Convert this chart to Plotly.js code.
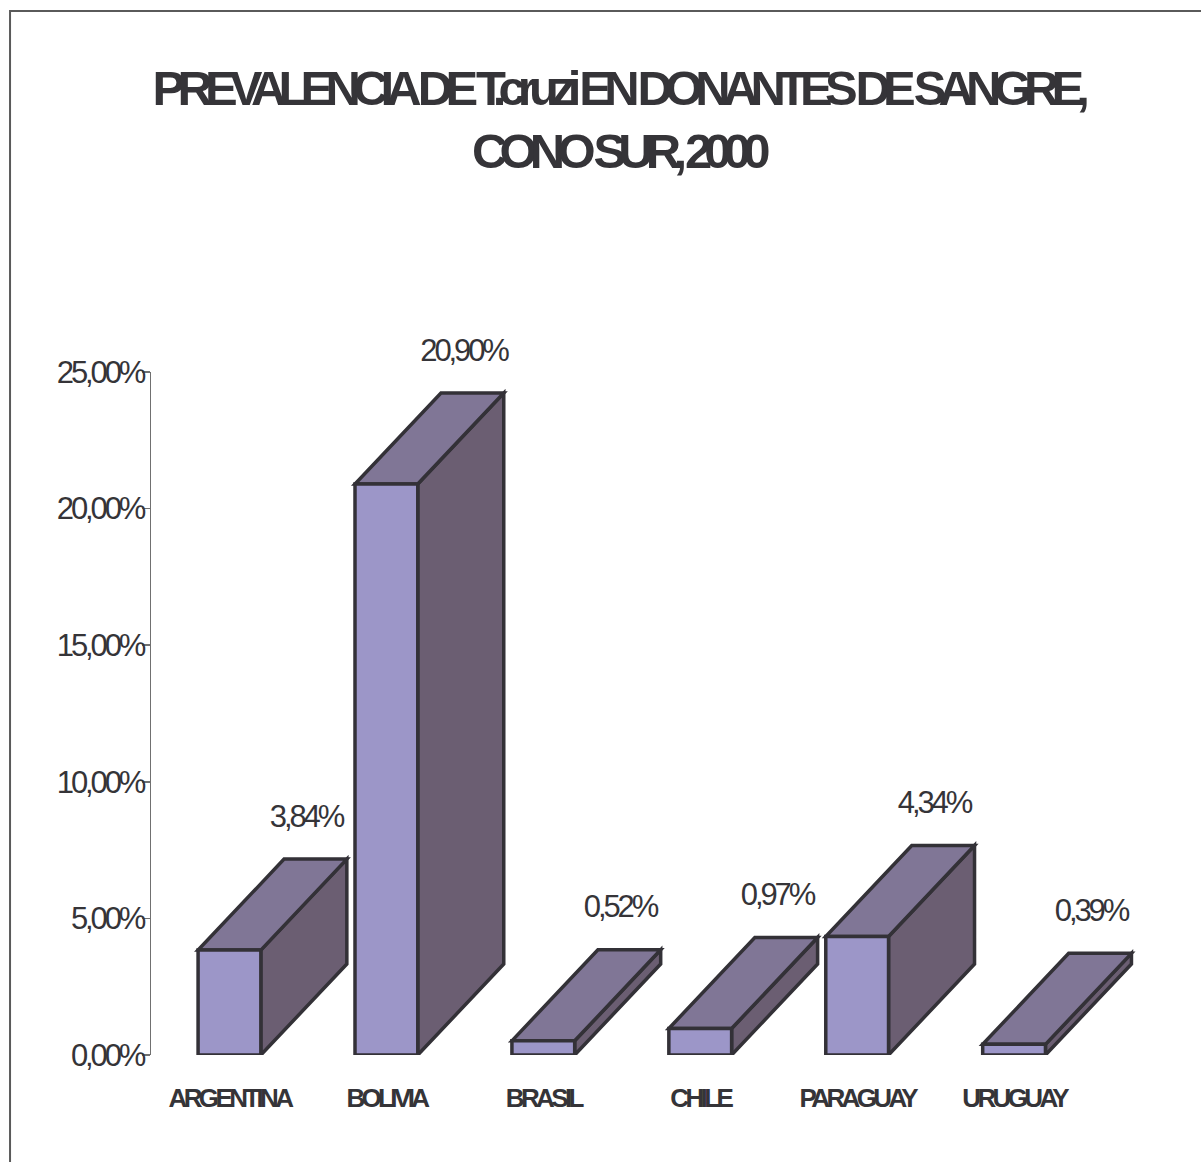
<!DOCTYPE html>
<html>
<head>
<meta charset="utf-8">
<script src="https://cdn.plot.ly/plotly-3.0.1.min.js"></script>
<style>
html,body{margin:0;padding:0;background:#fff}
#chart{width:1201px;height:1162px}
#chart .gtitle{letter-spacing:-0.16em}
#chart .xtick text{letter-spacing:-0.14em}
#chart .ytick text{letter-spacing:-0.1em}
#chart .annotation-text{letter-spacing:-0.1em}
</style>
</head>
<body>
<div id="chart"></div>
<script>
// ---- data ----
const countries = ['ARGENTINA', 'BOLIVIA', 'BRASIL', 'CHILE', 'PARAGUAY', 'URUGUAY'];
const prevalence = [3.84, 20.90, 0.52, 0.97, 4.34, 0.39];
const yTickValues = [0, 5, 10, 15, 20, 25];
const titleLines = ['PREVALENCIA DE T.cruzi EN DONANTES DE SANGRE,', 'CONO SUR, 2000'];

// ---- style ----
const FRONT = '#9C96C8', TOP = '#807696', SIDE = '#6B5E72', EDGE = '#333137';
const TXT = '#353438';
const FONT = 'Liberation Sans, Arial, Helvetica, sans-serif';
const BAR_W = 0.4;      // front face width (category units)
const DEPTH_X = 0.548;  // 3D depth offset, x (category units)
const DEPTH_Y = 3.33;   // 3D depth offset, y (axis units)
const EDGE_W = 3.5;

const xPos = countries.map((c, i) => i);

const fmt = v => v.toFixed(2).replace('.', ',') + '%';

const shapes = [];
xPos.forEach((x, i) => {
  const v = prevalence[i];
  const l = x - BAR_W / 2, r = x + BAR_W / 2;
  shapes.push({
    type: 'path', xref: 'x', yref: 'y', layer: 'below',
    path: `M ${r},0 L ${r + DEPTH_X},${DEPTH_Y} L ${r + DEPTH_X},${v + DEPTH_Y} L ${r},${v} Z`,
    fillcolor: SIDE, line: {color: EDGE, width: EDGE_W}
  });
  shapes.push({
    type: 'path', xref: 'x', yref: 'y', layer: 'below',
    path: `M ${l},${v} L ${r},${v} L ${r + DEPTH_X},${v + DEPTH_Y} L ${l + DEPTH_X},${v + DEPTH_Y} Z`,
    fillcolor: TOP, line: {color: EDGE, width: EDGE_W}
  });
});
// outer frame
shapes.push({
  type: 'path', xref: 'paper', yref: 'paper', layer: 'above',
  path: 'M -0.1382,-0.3 L -0.1382,1.5286 L 1.2,1.5286',
  line: {color: '#5a5a5a', width: 2}
});

const annotations = xPos.map((x, i) => ({
  x: x, y: prevalence[i], xref: 'x', yref: 'y',
  text: fmt(prevalence[i]), showarrow: false,
  xshift: 77, yshift: 134,
  font: {family: FONT, size: 31, color: TXT}
}));

const trace = {
  type: 'bar',
  x: xPos,
  y: prevalence,
  width: BAR_W,
  marker: {color: FRONT, line: {color: EDGE, width: EDGE_W}},
  hoverinfo: 'skip'
};

const layout = {
  width: 1201, height: 1162,
  paper_bgcolor: '#fff', plot_bgcolor: 'rgba(0,0,0,0)',
  margin: {l: 151, r: 30, t: 372, b: 107, pad: 0},
  showlegend: false,
  title: {
    text: titleLines.join('<br>'),
    font: {family: FONT, size: 49, weight: 'bold', color: TXT},
    xref: 'container', x: 0.514, xanchor: 'center',
    yref: 'container', y: 0.91, yanchor: 'top'
  },
  xaxis: {
    type: 'linear', range: [-0.5, 6.0],
    tickvals: xPos, ticktext: countries,
    showline: false, showgrid: false, zeroline: false, ticks: '',
    tickfont: {family: FONT, size: 26, weight: 'bold', color: TXT},
    ticklabelstandoff: 25
  },
  yaxis: {
    range: [0, 25], tickvals: yTickValues, ticktext: yTickValues.map(fmt),
    showline: true, linecolor: '#707070', linewidth: 1.5,
    ticks: 'outside', ticklen: 8, tickcolor: '#707070', tickwidth: 1.5,
    showgrid: false, zeroline: false,
    tickfont: {family: FONT, size: 31, color: TXT},
    ticklabelstandoff: -8
  },
  shapes: shapes,
  annotations: annotations
};

Plotly.newPlot('chart', [trace], layout, {staticPlot: true, displayModeBar: false});
</script>
</body>
</html>
